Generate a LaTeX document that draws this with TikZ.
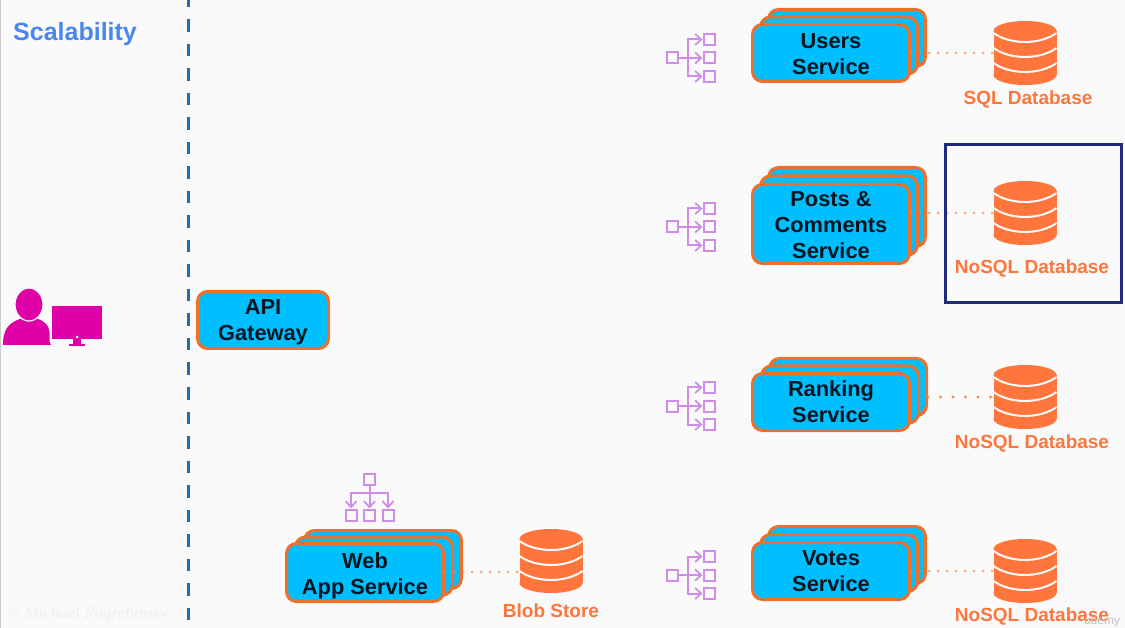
\documentclass[tikz,border=0pt]{standalone}
\usepackage{fontspec}
\setmainfont{Liberation Sans}
\newfontfamily\wmfont{Liberation Serif}
\usetikzlibrary{arrows.meta,calc}
\definecolor{bgc}{HTML}{FAFAFA}
\definecolor{svcfill}{HTML}{00BFFF}
\definecolor{svcline}{HTML}{F0702A}
\definecolor{dbc}{HTML}{FF753C}
\definecolor{lbc}{HTML}{CF8DE8}
\definecolor{dotc}{HTML}{F58A4E}
\definecolor{magc}{HTML}{E000A8}
\definecolor{frmc}{HTML}{1F2A7A}
\definecolor{divc}{HTML}{1B6DB5}
\definecolor{titlec}{HTML}{4A86F0}
\definecolor{txtc}{HTML}{08141F}
\tikzset{
  svcbox/.style={draw=svcline,fill=svcfill,line width=3pt,rounded corners=10pt,inner sep=0pt,
    minimum width=157pt},
  svctxt/.style={inner sep=0pt,align=center,text=txtc,font=\bfseries\fontsize{21.8}{26}\selectfont},
  dblabel/.style={text=dbc,font=\bfseries\fontsize{19}{24}\selectfont,inner sep=0pt},
  dbbox/.style={inner sep=0pt,minimum width=63pt,minimum height=64pt},
  lbsq/.style={draw=lbc,line width=2pt,fill=bgc,inner sep=0pt,minimum width=11pt,minimum height=11pt},
  lbline/.style={draw=lbc,line width=2pt},
  lbarrow/.style={lbline,-{Straight Barb[length=6pt,width=11pt,line width=1.8pt]}},
  dotline/.style={draw=dotc,line width=3pt,line cap=round,dash pattern=on 0pt off 9pt,opacity=.7},
  dotlinewide/.style={draw=dotc,line width=3.2pt,line cap=round,dash pattern=on 0pt off 12.5pt},
}
% name, cx, cy, height, mid dx, mid dy, back dx, back dy
\newcommand\svcstack[8]{%
  \node[svcbox,minimum height=#4pt] (#1back) at ({#2+#7},{#3+#8}) {};
  \node[svcbox,minimum height=#4pt] (#1mid) at ({#2+#5},{#3+#6}) {};
  \node[svcbox,minimum height=#4pt] (#1) at (#2,#3) {};
}
% name, cx, top
\newcommand\dbicon[3]{%
  \node[dbbox] (#1) at (#2,{#3+32}) {};
  \begin{scope}[shift={(#2,#3)}]
    \fill[dbc] (0,10) ellipse [x radius=31.5,y radius=10];
    \fill[dbc] (-31.5,10) rectangle (31.5,54);
    \fill[dbc] (0,54) ellipse [x radius=31.5,y radius=10];
    \foreach \e in {12,27,42}{
      \draw[bgc,line width=2pt] (-31.5,\e) .. controls (-15,\e+12) and (15,\e+12) .. (31.5,\e);
    }
  \end{scope}
}
% prefix, cy
\newcommand\lbh[2]{%
  \node[lbsq] (#1s) at (672,#2) {};
  \node[lbsq] (#1a) at (709,{#2-18.5}) {};
  \node[lbsq] (#1b) at (709,#2) {};
  \node[lbsq] (#1c) at (709,{#2+18.5}) {};
  \coordinate (#1t) at (687.5,#2);
  \draw[lbarrow] (#1s) -- (#1b);
  \draw[lbarrow] (#1t) |- (#1a);
  \draw[lbarrow] (#1t) |- (#1c);
}
\begin{document}
\begin{tikzpicture}[x=1pt,y=-1pt]
\useasboundingbox (0,0) rectangle (1125,628);
\fill[bgc] (0,0) rectangle (1125,628);
\draw[black!20,line width=1pt] (0.5,0) -- (0.5,628);

\node[text=titlec,font=\bfseries\fontsize{25}{30}\selectfont,inner sep=0pt,anchor=west] (title) at (13,34) {Scalability};

\coordinate (divtop) at (188,0);
\coordinate (divbot) at (188,628);
\draw[divc,line width=3pt,dash pattern=on 12.5pt off 12pt,dash phase=5pt] (divtop) -- (divbot);

% user and monitor
\fill[magc] (3,345) .. controls (3,330) and (8,323) .. (21,318.5) -- (37,318.5) .. controls (44,321) and (49,325) .. (49.5,332) -- (49.5,341) -- (51,345) -- cycle;
\filldraw[fill=magc,draw=bgc,line width=1.2pt] (29,304.5) ellipse [x radius=14,y radius=16.5];
\fill[magc] (52,306) rectangle (102,339);
\fill[magc] (73,339) rectangle (81,344);
\fill[magc] (69,344) rectangle (85,346);
\fill[bgc] (77,337) circle (1.5);

\node[svcbox,minimum width=131pt,minimum height=57pt] (api) at (263,320) {};
\node[svctxt] (apitext) at ([yshift=-2pt]api.center) {API\\Gateway};

% load balancers
\lbh{lbu}{58}
\lbh{lbp}{227}
\lbh{lbr}{406}
\lbh{lbv}{575}

\node[lbsq] (lbwt) at (369.5,479) {};
\node[lbsq] (lbwa) at (351,515) {};
\node[lbsq] (lbwb) at (369.5,515) {};
\node[lbsq] (lbwc) at (388,515) {};
\coordinate (lbwj) at (369.5,493);
\draw[lbarrow] (lbwt) -- (lbwb);
\draw[lbarrow] (lbwj) -| (lbwa);
\draw[lbarrow] (lbwj) -| (lbwc);

% services
\svcstack{users}{831}{53}{57}{8}{-7.5}{16}{-15}
\node[svctxt] (userstext) at ([yshift=-1pt]users.center) {Users\\Service};
\svcstack{posts}{831}{224}{79}{8}{-8.5}{16}{-17}
\node[svctxt] (poststext) at ([yshift=-1pt]posts.center) {Posts \&\\Comments\\Service};
\svcstack{rank}{831}{402}{57}{9}{-7.5}{17}{-15}
\node[svctxt] (ranktext) at (rank.center) {Ranking\\Service};
\svcstack{votes}{831}{571}{57}{8}{-8}{16}{-16}
\node[svctxt] (votestext) at (votes.center) {Votes\\Service};
\svcstack{web}{365}{572.5}{58}{9}{-6.5}{18}{-13}
\node[svctxt] (webtext) at ([yshift=-3pt]web.center) {Web\\App Service};

% databases
\dbicon{dbu}{1025}{21}
\dbicon{dbp}{1025}{181}
\dbicon{dbr}{1025}{365}
\dbicon{dbv}{1025}{539}
\dbicon{dbw}{551}{529}

\node[dblabel] (lblu) at (1028,99.5) {SQL Database};
\node[dblabel] (lblp) at (1032,268.5) {NoSQL Database};
\node[dblabel] (lblr) at (1032,443.5) {NoSQL Database};
\node[dblabel] (lblv) at (1032,616.5) {NoSQL Database};
\node[dblabel] (lblw) at (551,611) {Blob Store};

% dotted connectors
\draw[dotline] (users.east |- dbu.west) -- (dbu.west);
\draw[dotline] (posts.east |- dbp.west) -- (dbp.west);
\draw[dotlinewide] (rankback.east |- dbr.west) -- (dbr.west);
\draw[dotline] (votes.east |- dbv.west) -- (dbv.west);
\draw[dotline] ([yshift=-11pt]web.east |- dbw.west) -- ([yshift=-11pt]dbw.west);

% highlight
\node[draw=frmc,line width=3pt,inner sep=0pt,minimum width=176pt,minimum height=158pt] (frame) at (1033.5,223.5) {};

% watermarks
\node[fill=black!2,rounded corners=8pt,text=black!6,font=\wmfont\itshape\fontsize{17}{20}\selectfont,inner sep=4pt] (wm) at (88,614) {© Michael Pogrebinsky};
\node[text=black!25,font=\fontsize{12}{14}\selectfont,inner sep=0pt] (ud) at (1102,621) {udemy};
\end{tikzpicture}
\end{document}
